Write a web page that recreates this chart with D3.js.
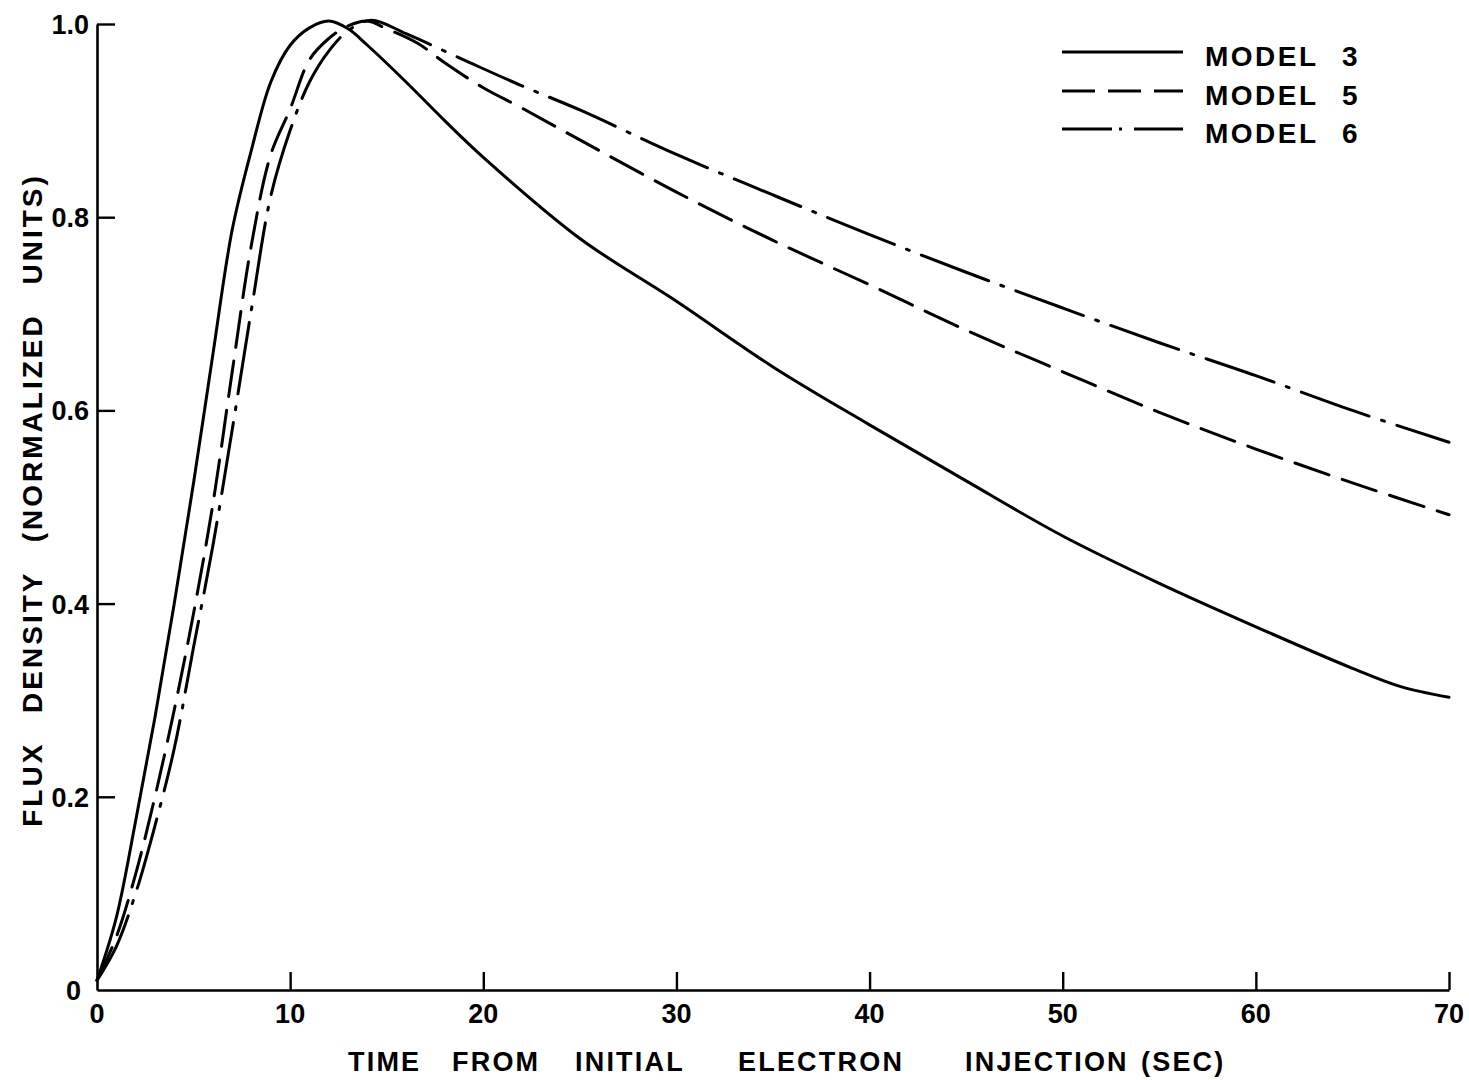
<!DOCTYPE html>
<html>
<head>
<meta charset="utf-8">
<script src="https://cdn.jsdelivr.net/npm/d3@7"></script>
<style>
  html, body { margin: 0; padding: 0; background: #fff; }
  svg { display: block; }
  text { font-family: "Liberation Sans", Arial, sans-serif; font-weight: bold; fill: #000; }
</style>
</head>
<body>
<svg id="chart" width="1469" height="1080"></svg>
<script>
// ---- data ----
const xTicks = [10, 20, 30, 40, 50, 60, 70];
const xTickLabels = ["0", "10", "20", "30", "40", "50", "60", "70"];
const yTicks = [0.2, 0.4, 0.6, 0.8, 1.0];
const yTickLabels = ["0", "0.2", "0.4", "0.6", "0.8", "1.0"];

const tM3 = [0,1,2,3,4,5,6,7,8,9,10,11,12,13,14,16,18,20,25,30,35,40,45,50,55,60,65,67.5,70];
const vM3 = [0.01,0.075,0.175,0.282,0.40,0.525,0.658,0.787,0.87,0.94,0.978,0.996,1.003,0.995,0.978,0.94,0.90,0.862,0.778,0.713,0.645,0.585,0.527,0.47,0.421,0.376,0.333,0.314,0.303];

const tM5 = [0,1,2,3,4,5,6,7,8,9,10,11,12,13,14,15,16.6,18,20,22,25,30,35,40,45,50,55,60,65,70];
const vM5 = [0.01,0.055,0.12,0.20,0.29,0.39,0.503,0.64,0.772,0.865,0.912,0.963,0.985,0.998,1.003,0.995,0.98,0.96,0.934,0.913,0.88,0.826,0.776,0.73,0.683,0.64,0.598,0.56,0.525,0.492];

const tM6 = [0,1,2,3,4,5,6,7,8,9,10,11,12,13,14.2,16,19.3,22,25,30,35,40,45,50,55,60,65,70];
const vM6 = [0.01,0.045,0.10,0.17,0.25,0.355,0.46,0.58,0.705,0.822,0.89,0.94,0.972,0.993,1.004,0.99,0.96,0.936,0.911,0.865,0.823,0.782,0.743,0.706,0.67,0.636,0.60,0.567];

const seriesNames = ["MODEL", "MODEL", "MODEL"];
const seriesNums = ["3", "5", "6"];
const xTitleWords = ["TIME", "FROM", "INITIAL", "ELECTRON", "INJECTION", "(SEC)"];
const yTitle = "FLUX DENSITY (NORMALIZED UNITS)";

// ---- layout ----
const svg = d3.select("#chart");
const W = 1469, H = 1080;
const m = { left: 97, right: 20, top: 24, bottom: 90 };
const x = d3.scaleLinear().domain([0, 70]).range([m.left, W - m.right]);
const y = d3.scaleLinear().domain([0, 1.0]).range([H - m.bottom, m.top]);

const dashes = ["none", "36,14", "72,13,3,13"];
const series = [
  { t: tM3, v: vM3 },
  { t: tM5, v: vM5 },
  { t: tM6, v: vM6 }
];

// axes
const xAxis = d3.axisBottom(x).tickValues(xTicks).tickSize(-18).tickSizeOuter(0).tickFormat("");
const yAxis = d3.axisLeft(y).tickValues(yTicks).tickSize(-18).tickSizeOuter(0).tickFormat("");

const gx = svg.append("g").attr("transform", `translate(0,${y(0)})`).call(xAxis);
const gy = svg.append("g").attr("transform", `translate(${x(0)},0)`).call(yAxis);
[gx, gy].forEach(g => {
  g.select(".domain").attr("stroke", "#000").attr("stroke-width", 2.6);
  g.selectAll(".tick line").attr("stroke", "#000").attr("stroke-width", 2.4);
});

// tick labels
svg.append("g").selectAll("text")
  .data([0].concat(xTicks))
  .join("text")
  .attr("x", d => x(d))
  .attr("y", y(0) + 33)
  .attr("text-anchor", "middle")
  .attr("font-size", 27)
  .text((d, i) => xTickLabels[i]);

svg.append("g").selectAll("text")
  .data([0].concat(yTicks))
  .join("text")
  .attr("x", (d, i) => i === 0 ? x(0) - 16 : x(0) - 8)
  .attr("y", d => y(d) + 10)
  .attr("text-anchor", "end")
  .attr("font-size", 27)
  .text((d, i) => yTickLabels[i]);

// axis titles
const xWordPos = [348, 452, 575, 738, 965, 1141];
svg.append("text")
  .attr("y", 1071)
  .attr("font-size", 27)
  .attr("letter-spacing", 2.2)
  .selectAll("tspan")
  .data(xTitleWords)
  .join("tspan")
  .attr("x", (d, i) => xWordPos[i])
  .text(d => d);

svg.append("text")
  .attr("transform", `translate(42,500) rotate(-90)`)
  .attr("text-anchor", "middle")
  .attr("font-size", 28)
  .attr("letter-spacing", 3)
  .attr("word-spacing", 18)
  .text(yTitle);

// curves
const line = d3.line()
  .x(d => x(d[0]))
  .y(d => y(d[1]))
  .curve(d3.curveCatmullRom.alpha(0.5));

svg.append("g").selectAll("path")
  .data(series)
  .join("path")
  .attr("d", s => line(s.t.map((t, i) => [t, s.v[i]])))
  .attr("fill", "none")
  .attr("stroke", "#000")
  .attr("stroke-width", 3)
  .attr("stroke-linecap", "round")
  .attr("stroke-dasharray", (s, i) => dashes[i]);

// legend
const legY = [52, 91, 129];
const leg = svg.append("g");
leg.selectAll("line")
  .data(seriesNums)
  .join("line")
  .attr("x1", 1062).attr("x2", 1183)
  .attr("y1", (d, i) => legY[i]).attr("y2", (d, i) => legY[i])
  .attr("stroke", "#000")
  .attr("stroke-width", 3)
  .attr("stroke-dasharray", (d, i) => i === 0 ? "none" : (i === 1 ? "33,13" : "50,7,3,12"));
leg.selectAll("text.name")
  .data(seriesNames)
  .join("text")
  .attr("class", "name")
  .attr("x", 1205)
  .attr("y", (d, i) => legY[i] + 14)
  .attr("font-size", 28)
  .attr("letter-spacing", 2.5)
  .text(d => d);
leg.selectAll("text.num")
  .data(seriesNums)
  .join("text")
  .attr("class", "num")
  .attr("x", 1342)
  .attr("y", (d, i) => legY[i] + 14)
  .attr("font-size", 28)
  .text(d => d);
</script>
</body>
</html>
